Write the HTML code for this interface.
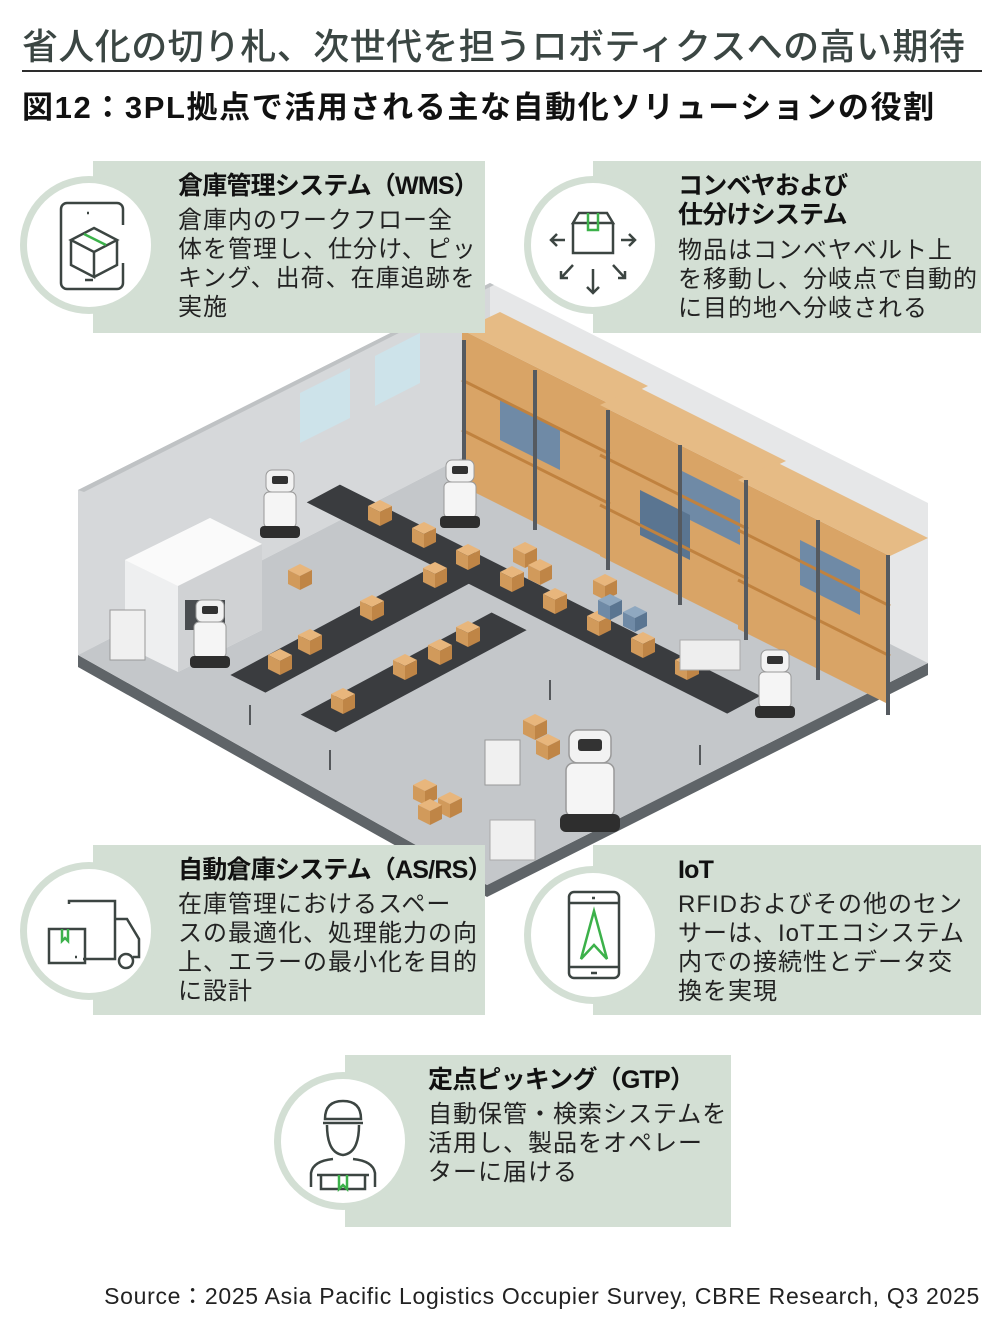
<!DOCTYPE html>
<html><head><meta charset="utf-8">
<style>
*{margin:0;padding:0;box-sizing:border-box}
body{width:1000px;height:1320px;background:#fff;position:relative;overflow:hidden;font-family:"Liberation Sans","Noto Sans CJK JP",sans-serif;color:#1e1e1e}
.abs{position:absolute}
.h1{left:22px;top:18px;font-size:36px;color:#3b4643;white-space:nowrap;letter-spacing:0.4px;font-weight:500}
.rule{left:22px;top:70px;width:960px;height:2px;background:#2d2d2d}
.h2{left:22px;top:82px;font-size:31px;font-weight:bold;white-space:nowrap;letter-spacing:1.6px;color:#111}
.box{position:absolute;background:#d3dfd4}
.circ{position:absolute;width:138px;height:138px;border-radius:50%;background:#d3dfd4}
.circ .in{position:absolute;left:7px;top:7px;width:124px;height:124px;border-radius:50%;background:#fff}
.circ svg{position:absolute;left:7px;top:7px}
.t{position:absolute;font-weight:bold;font-size:25px;line-height:29px;white-space:nowrap;letter-spacing:-0.8px;color:#111}
.b{position:absolute;font-size:24px;line-height:29px;white-space:nowrap;letter-spacing:1px;color:#222}
.src{right:20px;top:1277px;font-size:23px;color:#222;white-space:nowrap;letter-spacing:0.7px}
</style></head><body>
<div class="abs h1">省人化の切り札、次世代を担うロボティクスへの高い期待</div>
<div class="abs rule"></div>
<div class="abs h2">図12：3PL拠点で活用される主な自動化ソリューションの役割</div>

<svg class="abs" style="left:0;top:0" width="1000" height="1320" viewBox="0 0 1000 1320">
<defs>
<g id="cube">
<polygon points="0,-6 12,0 0,6 -12,0" fill="#e8b67c"/>
<polygon points="-12,0 0,6 0,20 -12,14" fill="#d19a5b"/>
<polygon points="12,0 0,6 0,20 12,14" fill="#bf8546"/>
</g>
<g id="bcube">
<polygon points="0,-6 12,0 0,6 -12,0" fill="#8fa8c0"/>
<polygon points="-12,0 0,6 0,20 -12,14" fill="#6f8aa6"/>
<polygon points="12,0 0,6 0,20 12,14" fill="#5a7591"/>
</g>
<g id="robot">
<rect x="-14" y="-40" width="28" height="22" rx="6" fill="#f2f2f2" stroke="#999" stroke-width="1"/>
<rect x="-8" y="-34" width="16" height="8" rx="2" fill="#333"/>
<rect x="-16" y="-18" width="32" height="36" rx="5" fill="#f5f5f5" stroke="#999" stroke-width="1"/>
<rect x="-20" y="16" width="40" height="12" rx="4" fill="#2e2e2e"/>
</g>
</defs>
<polygon points="78,655 487,885 928,663 928,675 487,897 78,667" fill="#5f6468"/>
<polygon points="78,490 490,283 490,443 78,655" fill="#d6d8da"/>
<polygon points="490,283 928,503 928,663 490,443" fill="#e6e7e8"/>
<polygon points="78,490 490,283 494,285 84,492" fill="#bfc2c4"/>
<polygon points="490,443 928,663 487,885 78,655" fill="#c4c7ca"/>
<polygon points="300,393 350,368 350,418 300,443" fill="#cde3ea"/>
<polygon points="375,356 420,333 420,383 375,406" fill="#cde3ea"/>
<polygon points="125,560 210,518 262,544 262,630 178,672 125,646" fill="#eeeff0"/>
<polygon points="125,560 210,518 262,544 178,586" fill="#fafafa"/>
<polygon points="178,586 262,544 262,630 178,672" fill="#d0d2d4"/>
<rect x="185" y="600" width="40" height="30" fill="#4a4d50"/>
<g>
<polygon points="462,330 610,404 610,560 462,486" fill="#d9a466"/>
<polygon points="462,330 500,312 648,386 610,404" fill="#e6bb85"/>
<polygon points="600,405 748,479 748,630 600,556" fill="#d9a466"/>
<polygon points="600,405 638,387 786,461 748,479" fill="#e6bb85"/>
<polygon points="738,480 890,556 890,705 738,629" fill="#d9a466"/>
<polygon points="738,480 776,462 928,538 890,556" fill="#e6bb85"/>
<polygon points="500,400 560,430 560,470 500,440" fill="#6f8aa6"/>
<polygon points="680,470 740,500 740,545 680,515" fill="#6f8aa6"/>
<polygon points="800,540 860,570 860,615 800,585" fill="#6f8aa6"/>
<polygon points="640,490 690,515 690,560 640,535" fill="#5a7591"/>
<g stroke="#c0823f" stroke-width="3">
<line x1="462" y1="380" x2="610" y2="454"/><line x1="462" y1="430" x2="610" y2="504"/>
<line x1="600" y1="455" x2="748" y2="529"/><line x1="600" y1="505" x2="748" y2="579"/>
<line x1="738" y1="530" x2="890" y2="606"/><line x1="738" y1="580" x2="890" y2="656"/>
</g>
<g stroke="#555a60" stroke-width="4">
<line x1="464" y1="340" x2="464" y2="500"/><line x1="535" y1="370" x2="535" y2="530"/><line x1="608" y1="410" x2="608" y2="570"/>
<line x1="680" y1="445" x2="680" y2="605"/><line x1="746" y1="480" x2="746" y2="640"/><line x1="818" y1="520" x2="818" y2="680"/><line x1="888" y1="555" x2="888" y2="715"/>
</g>
</g>
<g transform="translate(0,-25) matrix(4.38,2.2,-4.15,2.22,490,443)">
<rect x="-3" y="33" width="96" height="8" fill="#3a3c3f"/>
<rect x="26" y="38" width="8" height="52" fill="#3a3c3f"/>
<rect x="43" y="45" width="8" height="46" fill="#3a3c3f"/>
</g>
<g stroke="#55585b" stroke-width="2">
<line x1="250" y1="705" x2="250" y2="725"/><line x1="330" y1="750" x2="330" y2="770"/><line x1="700" y1="745" x2="700" y2="765"/><line x1="550" y1="680" x2="550" y2="700"/>
</g>
<use href="#cube" x="380" y="506"/><use href="#cube" x="424" y="528"/><use href="#cube" x="468" y="550"/><use href="#cube" x="512" y="572"/><use href="#cube" x="555" y="594"/><use href="#cube" x="599" y="616"/><use href="#cube" x="643" y="638"/><use href="#cube" x="687" y="660"/>
<use href="#cube" x="435" y="568"/><use href="#cube" x="372" y="601"/><use href="#cube" x="310" y="635"/><use href="#cube" x="280" y="655"/>
<use href="#cube" x="468" y="627"/><use href="#cube" x="405" y="660"/><use href="#cube" x="343" y="694"/><use href="#cube" x="440" y="645"/>
<use href="#cube" x="525" y="548"/><use href="#cube" x="540" y="565"/><use href="#cube" x="605" y="580"/>
<use href="#bcube" x="610" y="600"/><use href="#bcube" x="635" y="612"/>
<use href="#cube" x="425" y="785"/><use href="#cube" x="450" y="798"/><use href="#cube" x="430" y="805"/>
<use href="#cube" x="535" y="720"/><use href="#cube" x="548" y="740"/>
<use href="#cube" x="300" y="570"/>
<use href="#robot" x="460" y="500"/>
<use href="#robot" x="210" y="640"/>
<use href="#robot" x="775" y="690"/>
<use href="#robot" x="280" y="510"/>
<g transform="translate(590,790) scale(1.5)"><use href="#robot"/></g>
<rect x="485" y="740" width="35" height="45" fill="#f0f0f0" stroke="#999"/>
<rect x="680" y="640" width="60" height="30" fill="#eee" stroke="#aaa"/>
<rect x="110" y="610" width="35" height="50" fill="#f0f0f0" stroke="#999"/>
<rect x="490" y="820" width="45" height="40" fill="#f0f0f0" stroke="#aaa"/>
</svg>

<div class="box" style="left:93px;top:161px;width:392px;height:172px"></div>
<div class="circ" style="left:20px;top:176px"><div class="in"></div>
<svg width="124" height="124" viewBox="0 0 124 124" fill="none" stroke="#3c4542" stroke-width="2.5">
<path d="M40 20 H90 a6 6 0 0 1 6 6 V42 M96 80 V100 a6 6 0 0 1 -6 6 H40 a6 6 0 0 1 -6 -6 V26 a6 6 0 0 1 6 -6"/>
<line x1="60" y1="30" x2="62" y2="30"/><line x1="58" y1="97" x2="66" y2="97"/>
<path d="M67 45 L90 57 L67 69 L44 57 Z M44 57 V82 L67 94 V69 M90 57 V82 L67 94"/>
<line x1="57" y1="51" x2="79" y2="62" stroke="#3cb14a"/>
</svg></div>
<div class="t" style="left:178px;top:172px">倉庫管理システム（WMS）</div>
<div class="b" style="left:178px;top:206px">倉庫内のワークフロー全<br>体を管理し、仕分け、ピッ<br>キング、出荷、在庫追跡を<br>実施</div>

<div class="box" style="left:593px;top:161px;width:388px;height:172px"></div>
<div class="circ" style="left:524px;top:176px"><div class="in"></div>
<svg width="124" height="124" viewBox="0 0 124 124" fill="none" stroke="#3c4542" stroke-width="2.5">
<path d="M42 40 L48 30 H76 L82 40 Z M42 40 V70 H82 V40"/>
<path d="M57 30 V47 H67 V30" stroke="#3cb14a"/>
<path d="M34 57 H20 M26 51 L20 57 L26 63 M90 57 H104 M98 51 L104 57 L98 63 M42 82 L30 95 M30 88 V95 H37 M62 86 V110 M56 104 L62 110 L68 104 M82 82 L94 95 M94 88 V95 H87"/>
</svg></div>
<div class="t" style="left:678px;top:172px;line-height:29px">コンベヤおよび<br>仕分けシステム</div>
<div class="b" style="left:678px;top:236px">物品はコンベヤベルト上<br>を移動し、分岐点で自動的<br>に目的地へ分岐される</div>

<div class="box" style="left:93px;top:845px;width:392px;height:170px"></div>
<div class="circ" style="left:20px;top:862px"><div class="in"></div>
<svg width="124" height="124" viewBox="0 0 124 124" fill="none" stroke="#3c4542" stroke-width="2.5">
<path d="M42 35 V32 H88 V90 H56 M88 50 H100 L112 70 V88 H106"/>
<circle cx="99" cy="92" r="7"/>
<rect x="22" y="60" width="36" height="34"/>
<path d="M35 60 V72 L38 69 L41 72 V60" stroke="#3cb14a"/>
<line x1="48" y1="88" x2="50" y2="88"/>
</svg></div>
<div class="t" style="left:178px;top:856px">自動倉庫システム（AS/RS）</div>
<div class="b" style="left:178px;top:890px">在庫管理におけるスペー<br>スの最適化、処理能力の向<br>上、エラーの最小化を目的<br>に設計</div>

<div class="box" style="left:593px;top:845px;width:388px;height:170px"></div>
<div class="circ" style="left:524px;top:866px"><div class="in"></div>
<svg width="124" height="124" viewBox="0 0 124 124" fill="none" stroke="#3c4542" stroke-width="2.5">
<rect x="38" y="19" width="50" height="86" rx="5"/>
<line x1="38" y1="30" x2="88" y2="30"/><line x1="38" y1="94" x2="88" y2="94"/>
<line x1="61" y1="25" x2="64" y2="25"/><line x1="60" y1="100" x2="66" y2="100"/>
<path d="M63 38 L50 86 L63 72 L76 86 Z" stroke="#3cb14a"/>
</svg></div>
<div class="t" style="left:678px;top:856px">IoT</div>
<div class="b" style="left:678px;top:890px">RFIDおよびその他のセン<br>サーは、IoTエコシステム<br>内での接続性とデータ交<br>換を実現</div>

<div class="box" style="left:345px;top:1055px;width:386px;height:172px"></div>
<div class="circ" style="left:274px;top:1072px"><div class="in"></div>
<svg width="124" height="124" viewBox="0 0 124 124" fill="none" stroke="#3c4542" stroke-width="2.5">
<path d="M44 40 Q44 22 62 22 Q80 22 80 40 Z M42 44 H82"/>
<path d="M46 46 Q46 74 62 76 Q78 74 78 46"/>
<path d="M30 108 V94 Q32 82 52 80 M94 108 V94 Q92 82 72 80"/>
<path d="M36 96 H88 M40 96 V110 H84 V96"/>
<path d="M58 96 V110 L62 106 L66 110 V96" stroke="#3cb14a"/>
</svg></div>
<div class="t" style="left:428px;top:1066px">定点ピッキング（GTP）</div>
<div class="b" style="left:428px;top:1100px">自動保管・検索システムを<br>活用し、製品をオペレー<br>ターに届ける</div>

<div class="abs src">Source：2025 Asia Pacific Logistics Occupier Survey, CBRE Research, Q3 2025</div>
</body></html>
